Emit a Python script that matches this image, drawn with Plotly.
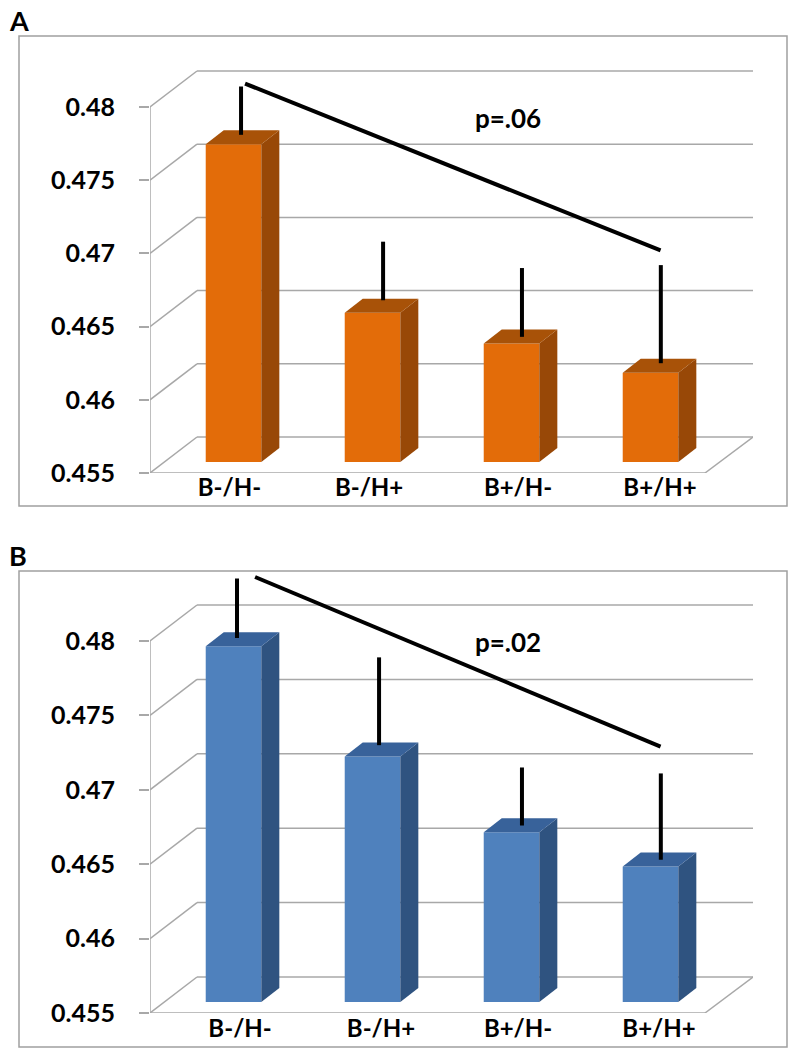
import plotly.graph_objects as go

categories = ["B-/H-", "B-/H+", "B+/H-", "B+/H+"]
y_ticks = [0.455, 0.46, 0.465, 0.47, 0.475, 0.48]
y_tick_labels = ["0.455", "0.46", "0.465", "0.47", "0.475", "0.48"]

values_a = [0.4767, 0.4652, 0.4631, 0.4611]
err_low_a = [0.4781, 0.4668, 0.4643, 0.4625]
err_high_a = [0.4814, 0.4708, 0.4690, 0.4692]
err_x_a = [0.083, 1.105, 2.104, 3.103]
trend_x_a = [0.112, 3.101]
trend_y_a = [0.4816, 0.4702]
label_pos_a = [0.0, 1.004, 2.076, 3.097]

values_b = [0.4789, 0.4715, 0.4664, 0.4641]
err_low_b = [0.4802, 0.4730, 0.4676, 0.4653]
err_high_b = [0.4842, 0.4789, 0.4715, 0.4711]
err_x_b = [0.054, 1.076, 2.104, 3.103]
trend_x_b = [0.184, 3.101]
trend_y_b = [0.4843, 0.4729]
label_pos_b = [0.076, 1.090, 2.076, 3.090]

W, H = 797, 1050
PX = 139.0
X0 = 229.5
X_RANGE = [(150 - X0) / PX, (753 - X0) / PX]
DOM_X = [150 / W, 753 / W]
GRID = "#a8a8a8"
FONT = "Lato, Carlito, 'Open Sans', sans-serif"


def px(p):
    return (p - X0) / PX


fig = go.Figure()
shapes = []
annotations = []


def panel(suffix, values, low, high, ex, tx, ty, label_pos, bottom_px, top_px, scale,
          base_gap, front, side, top, frame, label, label_xy, ptext, p_xy, x_standoff):
    xa, ya = "x" + suffix, "y" + suffix
    ymax = 0.455 + (bottom_px - top_px) / scale
    back_dy = 36 / scale
    bw = 0.4
    shift = 0.029
    dx, dy = 18 / PX, 14 / scale
    base = 0.455 + base_gap / scale

    s = dict(xref=xa, yref=ya, type="line", layer="below", line=dict(color=GRID, width=1.5))
    for t in y_ticks:
        shapes.append(dict(s, x0=px(150), x1=px(197), y0=t, y1=t + back_dy))
        shapes.append(dict(s, x0=px(197), x1=px(753), y0=t + back_dy, y1=t + back_dy))
    shapes.append(dict(s, x0=px(150), x1=px(150), y0=0.455, y1=0.48))
    shapes.append(dict(s, x0=px(150), x1=px(705), y0=0.455, y1=0.455))
    shapes.append(dict(s, x0=px(705), x1=px(753), y0=0.455, y1=0.455 + back_dy))
    shapes.append(dict(type="rect", xref="paper", yref="paper", layer="below",
                       x0=19 / W, x1=787 / W, y0=1 - frame[1] / H, y1=1 - frame[0] / H,
                       line=dict(color="#a0a0a0", width=1.5)))

    xs = [i + shift for i in range(len(categories))]
    fig.add_trace(go.Bar(x=xs, y=[v - 0.455 for v in values], base=base, width=bw,
                         marker=dict(color=front, line=dict(width=0)),
                         xaxis=xa, yaxis=ya, showlegend=False, hoverinfo="skip"))
    for c, v in zip(xs, values):
        x1 = c + bw / 2
        x0 = c - bw / 2
        yt = base + v - 0.455
        fig.add_trace(go.Scatter(x=[x1, x1 + dx, x1 + dx, x1, x1], y=[base, base + dy, yt + dy, yt, base],
                                 fill="toself", fillcolor=side, mode="lines", line=dict(width=0),
                                 xaxis=xa, yaxis=ya, showlegend=False, hoverinfo="skip"))
        fig.add_trace(go.Scatter(x=[x0, x1, x1 + dx, x0 + dx, x0], y=[yt, yt, yt + dy, yt + dy, yt],
                                 fill="toself", fillcolor=top, mode="lines", line=dict(width=0),
                                 xaxis=xa, yaxis=ya, showlegend=False, hoverinfo="skip"))
    fig.add_trace(go.Scatter(x=ex, y=low, mode="markers", marker=dict(size=1, color="black", opacity=0),
                             error_y=dict(type="data", symmetric=False,
                                          array=[h - l for h, l in zip(high, low)],
                                          arrayminus=[0] * len(low), width=0, thickness=4, color="black"),
                             xaxis=xa, yaxis=ya, showlegend=False, hoverinfo="skip", cliponaxis=False))
    fig.add_trace(go.Scatter(x=tx, y=ty, mode="lines", line=dict(color="black", width=4),
                             xaxis=xa, yaxis=ya, showlegend=False, hoverinfo="skip", cliponaxis=False))

    name_x = "xaxis" + suffix
    name_y = "yaxis" + suffix
    fig.update_layout(**{
        name_x: dict(domain=DOM_X, range=X_RANGE, tickmode="array", tickvals=label_pos,
                     ticktext=["<b>%s</b>" % c for c in categories], showgrid=False, zeroline=False,
                     showline=False, ticks="", automargin=False,
                     tickfont=dict(family=FONT, size=24, color="black"), anchor=ya,
                     ticklabelstandoff=x_standoff),
        name_y: dict(domain=[1 - bottom_px / H, 1 - top_px / H], range=[0.455, ymax], tickmode="array",
                     tickvals=y_ticks, ticktext=["<b>%s</b>" % t for t in y_tick_labels], showgrid=False,
                     zeroline=False, showline=False, automargin=False,
                     ticks="outside", ticklen=10, tickcolor=GRID, tickwidth=1.5,
                     tickfont=dict(family=FONT, size=25, color="black"), anchor=xa, ticklabelstandoff=19),
    })
    annotations.append(dict(text="<b>%s</b>" % label, xref="paper", yref="paper", x=label_xy[0] / W,
                            y=1 - label_xy[1] / H, showarrow=False, xanchor="center", yanchor="middle",
                            font=dict(family=FONT, size=27, color="black")))
    annotations.append(dict(text="<b>%s</b>" % ptext, xref="paper", yref="paper", x=p_xy[0] / W,
                            y=1 - p_xy[1] / H, showarrow=False, xanchor="center", yanchor="middle",
                            font=dict(family=FONT, size=26, color="black")))


panel("", values_a, err_low_a, err_high_a, err_x_a, trend_x_a, trend_y_a, label_pos_a, 473, 60, 14640, 11,
      "#e36c09", "#984807", "#a85208", (36, 506), "A", (19, 20), "p=.06", (508, 118), -2)
panel("2", values_b, err_low_b, err_high_b, err_x_b, trend_x_b, trend_y_b, label_pos_b, 1013, 574, 14880, 11,
      "#4f81bd", "#2f5380", "#38629a", (571, 1047), "B", (18, 555), "p=.02", (508, 642), -1)

fig.update_layout(width=W, height=H, margin=dict(l=0, r=0, t=0, b=0), paper_bgcolor="white",
                  plot_bgcolor="rgba(0,0,0,0)", shapes=shapes, annotations=annotations, showlegend=False,
                  barmode="overlay")
fig.write_html("out.html", config={"displayModeBar": False},
               post_script="document.body.style.margin='0';document.documentElement.style.overflow='hidden';")
